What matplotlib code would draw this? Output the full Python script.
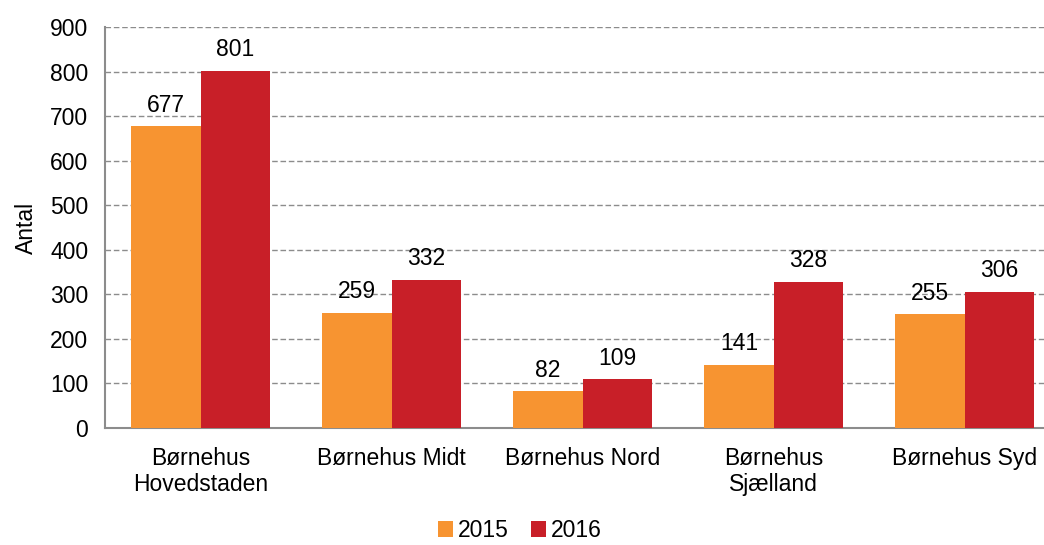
import matplotlib
matplotlib.use("Agg")
import matplotlib.pyplot as plt
import numpy as np

categories = ["Børnehus\nHovedstaden", "Børnehus Midt", "Børnehus Nord", "Børnehus\nSjælland", "Børnehus Syd"]
values_2015 = [677, 259, 82, 141, 255]
values_2016 = [801, 332, 109, 328, 306]
series_labels = ["2015", "2016"]
yticks = [0, 100, 200, 300, 400, 500, 600, 700, 800, 900]

plt.rcParams['font.family'] = ['Liberation Sans', 'DejaVu Sans']
fs = 16.5

fig = plt.figure(figsize=(10.44, 5.45), dpi=100)
# the plot area runs past the right edge of the figure, as in the original
ax = fig.add_axes([105 / 1044, 1 - 428 / 545, 955 / 1044, (428 - 27) / 545])

x = np.arange(len(categories))
w = 0.363
b1 = ax.bar(x - w / 2, values_2015, w, color="#F79431", label=series_labels[0], zorder=3)
b2 = ax.bar(x + w / 2, values_2016, w, color="#C81F28", label=series_labels[1], zorder=3)

for bars in (b1, b2):
    for r in bars:
        ax.annotate(str(int(r.get_height())), (r.get_x() + r.get_width() / 2, r.get_height()),
                    xytext=(0, 7), textcoords="offset points", ha="center", va="bottom", fontsize=fs)

ax.set_xlim(-0.5, len(categories) - 0.5)
ax.set_ylim(0, 900)
ax.set_yticks(yticks)
ax.yaxis.grid(True, linestyle=(0, (4, 2)), color="#8c8c8c", linewidth=1, zorder=0)
ax.set_xticks(x)
ax.set_xticklabels(categories, fontsize=fs, linespacing=1.15)
ax.tick_params(axis="x", length=0, pad=14)
ax.tick_params(axis="y", length=0, labelsize=fs, pad=12)
for s in ("top", "right"):
    ax.spines[s].set_visible(False)
for s in ("left", "bottom"):
    ax.spines[s].set_color("#8c8c8c")
    ax.spines[s].set_linewidth(1.5)
ax.set_ylabel("Antal", fontsize=fs, labelpad=9)

fig.legend(loc="lower center", bbox_to_anchor=(520 / 1044, -0.02), ncol=2, frameon=False, fontsize=fs,
           handlelength=0.65, handleheight=0.65, handletextpad=0.2, columnspacing=1.0, borderpad=0.1)

fig.savefig("out.png", dpi=100)
